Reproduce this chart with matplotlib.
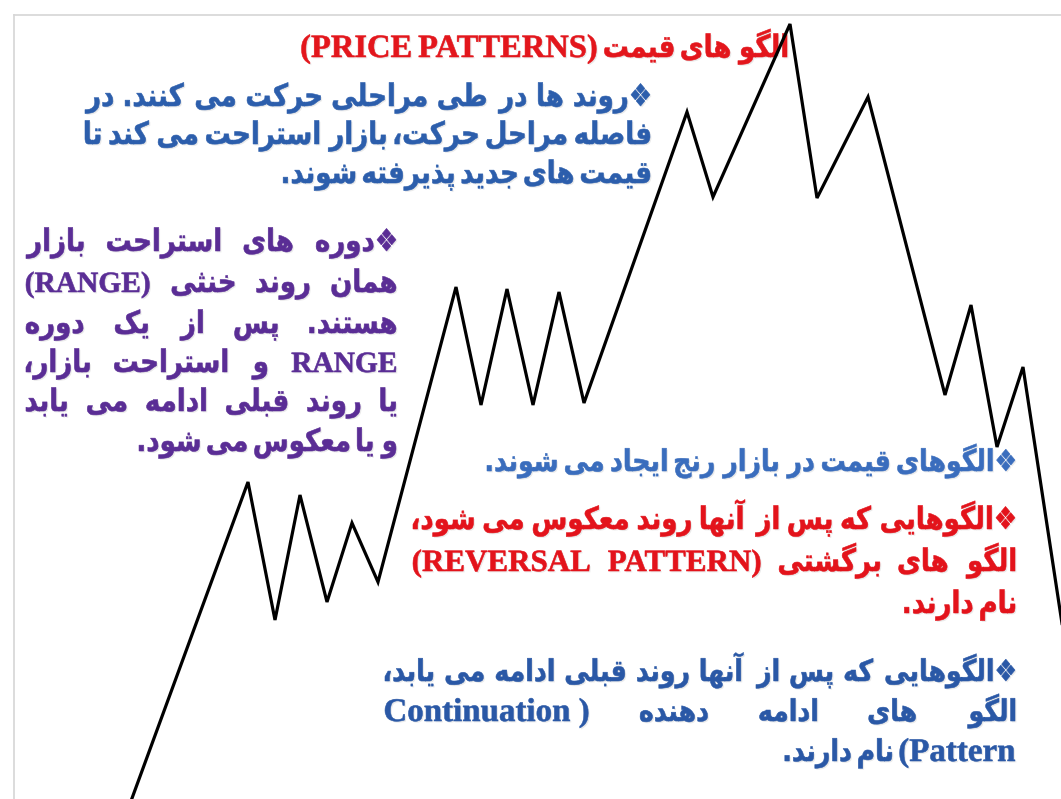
import matplotlib
matplotlib.use("Agg")
import matplotlib.pyplot as plt
from matplotlib import patheffects as pe
from matplotlib.textpath import TextPath
from matplotlib.patches import PathPatch
from matplotlib.font_manager import FontProperties
from matplotlib.transforms import Affine2D

W, H = 1061, 799

# ---------------- data ----------------
# zig-zag price path: vertices (pixel coordinates)
path_x = [131, 248, 275, 300, 327, 352, 378, 456, 481, 507, 533, 559, 584,
          687, 713, 790, 817, 868, 945, 971, 997, 1023, 1063]
path_y = [801, 482, 620, 495, 602, 523, 582, 287, 405, 289, 405, 292, 403,
          112, 197, 24, 198, 97, 395, 305, 447, 367, 630]

title_text = "الگو های قیمت (PRICE PATTERNS)"

para1_lines = ["❖روند ها در طی مراحلی حرکت می کنند. در",
               "فاصله مراحل حرکت، بازار استراحت می کند تا",
               "قیمت های جدید پذیرفته شوند."]
para2_lines = ["❖دوره های استراحت بازار",
               "همان روند خنثی (RANGE)",
               "هستند. پس از یک دوره",
               "RANGE و استراحت بازار،",
               "یا روند قبلی ادامه می یابد",
               "و یا معکوس می شود."]
para3_lines = ["❖الگوهای قیمت در بازار رنج ایجاد می شوند."]
para4_lines = ["❖الگوهایی که پس از آنها روند معکوس می شود،",
               "الگو های برگشتی (REVERSAL PATTERN)",
               "نام دارند."]
para5_lines = ["❖الگوهایی که پس از آنها روند قبلی ادامه می یابد،",
               "الگو های ادامه دهنده ( Continuation",
               "Pattern) نام دارند."]

# ---------------- minimal Arabic/Persian shaping + bidi ----------------
FORMS = {
    'آ': ('\uFE81', '\uFE82'), 'أ': ('\uFE83', '\uFE84'),
    'ؤ': ('\uFE85', '\uFE86'), 'إ': ('\uFE87', '\uFE88'),
    'ئ': ('\uFE89', '\uFE8A', '\uFE8B', '\uFE8C'),
    'ا': ('\uFE8D', '\uFE8E'),
    'ب': ('\uFE8F', '\uFE90', '\uFE91', '\uFE92'),
    'ة': ('\uFE93', '\uFE94'),
    'ت': ('\uFE95', '\uFE96', '\uFE97', '\uFE98'),
    'ث': ('\uFE99', '\uFE9A', '\uFE9B', '\uFE9C'),
    'ج': ('\uFE9D', '\uFE9E', '\uFE9F', '\uFEA0'),
    'ح': ('\uFEA1', '\uFEA2', '\uFEA3', '\uFEA4'),
    'خ': ('\uFEA5', '\uFEA6', '\uFEA7', '\uFEA8'),
    'د': ('\uFEA9', '\uFEAA'), 'ذ': ('\uFEAB', '\uFEAC'),
    'ر': ('\uFEAD', '\uFEAE'), 'ز': ('\uFEAF', '\uFEB0'),
    'س': ('\uFEB1', '\uFEB2', '\uFEB3', '\uFEB4'),
    'ش': ('\uFEB5', '\uFEB6', '\uFEB7', '\uFEB8'),
    'ص': ('\uFEB9', '\uFEBA', '\uFEBB', '\uFEBC'),
    'ض': ('\uFEBD', '\uFEBE', '\uFEBF', '\uFEC0'),
    'ط': ('\uFEC1', '\uFEC2', '\uFEC3', '\uFEC4'),
    'ظ': ('\uFEC5', '\uFEC6', '\uFEC7', '\uFEC8'),
    'ع': ('\uFEC9', '\uFECA', '\uFECB', '\uFECC'),
    'غ': ('\uFECD', '\uFECE', '\uFECF', '\uFED0'),
    'ف': ('\uFED1', '\uFED2', '\uFED3', '\uFED4'),
    'ق': ('\uFED5', '\uFED6', '\uFED7', '\uFED8'),
    'ك': ('\uFED9', '\uFEDA', '\uFEDB', '\uFEDC'),
    'ل': ('\uFEDD', '\uFEDE', '\uFEDF', '\uFEE0'),
    'م': ('\uFEE1', '\uFEE2', '\uFEE3', '\uFEE4'),
    'ن': ('\uFEE5', '\uFEE6', '\uFEE7', '\uFEE8'),
    'ه': ('\uFEE9', '\uFEEA', '\uFEEB', '\uFEEC'),
    'و': ('\uFEED', '\uFEEE'), 'ى': ('\uFEEF', '\uFEF0'),
    'ي': ('\uFEF1', '\uFEF2', '\uFEF3', '\uFEF4'),
    'پ': ('\uFB56', '\uFB57', '\uFB58', '\uFB59'),
    'چ': ('\uFB7A', '\uFB7B', '\uFB7C', '\uFB7D'),
    'ژ': ('\uFB8A', '\uFB8B'),
    'ک': ('\uFB8E', '\uFB8F', '\uFB90', '\uFB91'),
    'گ': ('\uFB92', '\uFB93', '\uFB94', '\uFB95'),
    'ی': ('\uFBFC', '\uFBFD', '\uFBFE', '\uFBFF'),
}
LAMALEF = {'ا': ('\uFEFB', '\uFEFC'), 'آ': ('\uFEF5', '\uFEF6'),
           'أ': ('\uFEF7', '\uFEF8'), 'إ': ('\uFEF9', '\uFEFA')}
MIRROR = {'(': ')', ')': '(', '[': ']', ']': '['}


def _dual(c):
    return c in FORMS and len(FORMS[c]) == 4


def shape(s):
    out, i, n = [], 0, len(s)
    while i < n:
        c = s[i]
        if c not in FORMS:
            out.append(c)
            i += 1
            continue
        jp = i > 0 and _dual(s[i - 1])
        if c == 'ل' and i + 1 < n and s[i + 1] in LAMALEF:
            iso, fin = LAMALEF[s[i + 1]]
            out.append(fin if jp else iso)
            i += 2
            continue
        jn = _dual(c) and i + 1 < n and s[i + 1] in FORMS
        f = FORMS[c]
        if jp and jn:
            g = f[3]
        elif jp:
            g = f[1]
        elif jn:
            g = f[2]
        else:
            g = f[0]
        out.append(g)
        i += 1
    return ''.join(out)


def _btype(c):
    if c.isascii() and c.isalnum():
        return 'L'
    o = ord(c)
    if (0x0600 <= o <= 0x06FF or 0xFB50 <= o <= 0xFDFF or 0xFE70 <= o <= 0xFEFF) \
            and c not in '،؛':
        return 'R'
    return 'N'


def visual(s, base='R'):
    n = len(s)
    t = [_btype(c) for c in s]
    res = t[:]
    i = 0
    while i < n:
        if t[i] == 'N':
            j = i
            while j < n and t[j] == 'N':
                j += 1
            prev = t[i - 1] if i > 0 else base
            nxt = t[j] if j < n else base
            d = prev if prev == nxt else base
            for k in range(i, j):
                res[k] = d
            i = j
        else:
            i += 1
    if base == 'R':
        lv = [1 if r == 'R' else 2 for r in res]
    else:
        lv = [0 if r == 'L' else 1 for r in res]
    chars = [MIRROR.get(c, c) if lv[k] % 2 else c for k, c in enumerate(s)]
    order = list(range(n))
    odd = [l for l in lv if l % 2]
    if odd:
        for L in range(max(lv), min(odd) - 1, -1):
            k = 0
            while k < n:
                if lv[order[k]] >= L:
                    m = k
                    while m < n and lv[order[m]] >= L:
                        m += 1
                    order[k:m] = order[k:m][::-1]
                    k = m
                else:
                    k += 1
    return ''.join(chars[o] for o in order)


# ---------------- figure ----------------
fig = plt.figure(figsize=(W / 100, H / 100), dpi=100)
fig.patch.set_facecolor('white')
ax = fig.add_axes([0, 0, 1, 1])
ax.set_xlim(0, W)
ax.set_ylim(H, 0)
ax.axis('off')

FP_LAT = FontProperties(family='Liberation Serif', weight='bold')
FP_AR = FontProperties(family='DejaVu Sans', weight='bold')
SX_AR = 0.84      # horizontal condensing of the Persian words
SHADOW = [pe.SimplePatchShadow(offset=(1.0, -1.0), shadow_rgbFace='#9a9a9a', alpha=0.2),
          pe.Normal()]


def is_latin(w):
    return any(c.isascii() and c.isalpha() for c in w)


def word_path(w, em, lat):
    if is_latin(w):
        p = TextPath((0, 0), w, size=em * lat, prop=FP_LAT)
        sx = 1.0
    else:
        p = TextPath((0, 0), w, size=em, prop=FP_AR)
        sx = SX_AR
    ext = p.get_extents()
    return p, sx, ext.x0 * sx, (ext.x1 - ext.x0) * sx


def split_words(vis):
    words = []
    for w in vis.split(' '):
        if not w:
            continue
        # a lone bracket stays glued to the Latin word beside it
        if words and all(c in '()' for c in w) and is_latin(words[-1]):
            words[-1] = words[-1] + ' ' + w
        else:
            words.append(w)
    return words


def layout(logical, em, lat):
    words = split_words(visual(shape(logical)))
    items = [word_path(w, em, lat) for w in words]
    return items, 0.26 * em


def fit_em(logical, x_left, x_right, em, lat):
    items, space = layout(logical, em, lat)
    need = sum(it[3] for it in items) + 0.6 * space * (len(items) - 1)
    avail = x_right - x_left
    return em if need <= avail else em * avail / need


def draw_line(logical, y, x_left, x_right, em, color, mode='justify', lat=1.0):
    items, space = layout(logical, em, lat)
    widths = [it[3] for it in items]
    if mode == 'justify' and len(items) > 1:
        gap = (x_right - x_left - sum(widths)) / (len(items) - 1)
        x = x_left
    else:
        natural = sum(widths) + space * (len(items) - 1)
        gap = space
        x = x_right - natural if mode == 'right' else x_left
    for p, sx, x0, wd in items:
        tr = Affine2D().scale(sx, -1.0).translate(x - x0, y) + ax.transData
        ax.add_patch(PathPatch(p, transform=tr, facecolor=color, edgecolor=color,
                               lw=0.4, zorder=2, path_effects=SHADOW))
        x += wd + gap


def draw_para(lines, baselines, x_left, x_right, em, color, modes, lat=1.0):
    # one common size per paragraph, small enough for every justified line
    for ln, md in zip(lines, modes):
        if md == 'justify':
            em = min(em, fit_em(ln, x_left, x_right, em, lat))
    for ln, yb, md in zip(lines, baselines, modes):
        draw_line(ln, yb, x_left, x_right, em, color, md, lat)


# slide frame
ax.plot([14, W], [15, 15], color='#d6d6d6', lw=1.2, zorder=1)
ax.plot([14, 14], [15, H], color='#d6d6d6', lw=1.2, zorder=1)

# title
draw_para([title_text], [57], 295, 787, 31, '#e3161c', ['right'], lat=1.05)

draw_para(para1_lines, [106, 144, 183], 85, 650, 31, '#2c5eac',
          ['justify', 'justify', 'right'])
draw_para(para2_lines, [251, 292, 333, 372, 411, 451], 26, 396, 31, '#5a2d95',
          ['justify'] * 5 + ['right'], lat=0.95)
draw_para(para3_lines, [471], 487, 1015, 30, '#3a6dbd', ['justify'])
draw_para(para4_lines, [529, 571, 613], 413, 1015, 31, '#e3131b',
          ['justify', 'justify', 'right'], lat=1.0)
draw_para(para5_lines, [681, 721, 761], 385, 1015, 30, '#2a58a6',
          ['justify', 'justify', 'right'], lat=1.1)

# price path
ax.plot(path_x, path_y, color='black', lw=2.3, solid_joinstyle='miter', zorder=3)

fig.savefig('out.png', dpi=100, facecolor='white')
